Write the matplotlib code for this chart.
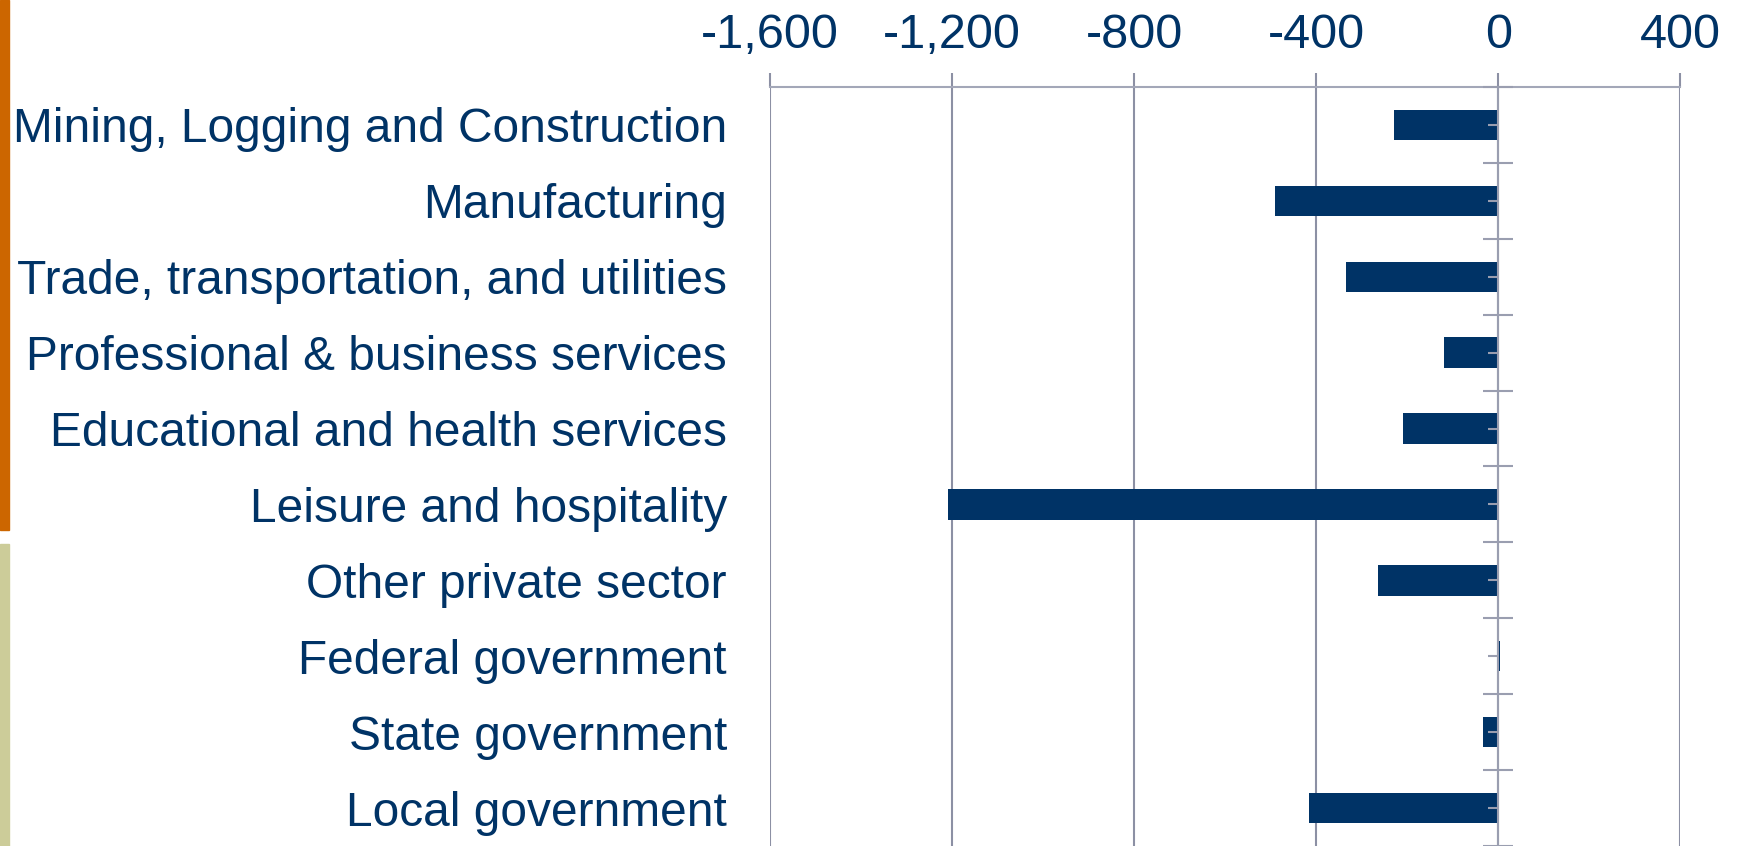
import matplotlib
matplotlib.use('Agg')
import matplotlib.pyplot as plt
from matplotlib.patches import Rectangle
from matplotlib.ticker import FuncFormatter, FixedLocator, NullFormatter
import numpy as np

categories = ['Mining, Logging and Construction', 'Manufacturing',
              'Trade, transportation, and utilities',
              'Professional & business services',
              'Educational and health services',
              'Leisure and hospitality', 'Other private sector',
              'Federal government', 'State government', 'Local government']
values = [-229, -490, -334, -119, -209, -1210, -264, 4, -34, -415]
xticks = [-1600, -1200, -800, -400, 0, 400]

navy = '#003366'
grid_col = '#8c90a4'
zero_col = '#9a9eb0'

plt.rcParams['font.family'] = ['Liberation Sans', 'DejaVu Sans']

fig = plt.figure(figsize=(17.37, 8.46), dpi=100)
ax = fig.add_axes([770 / 1737, 0.0, (1680.5 - 770) / 1737, 1 - 87 / 846])

y = np.arange(len(categories))
ax.barh(y, values, height=0.4, color=navy, zorder=2)

ax.set_xlim(xticks[0], xticks[-1])
ax.set_ylim(len(categories) - 0.5, -0.5)

ax.xaxis.tick_top()
ax.set_xticks(xticks)
ax.xaxis.set_major_formatter(FuncFormatter(lambda v, p: '{:,.0f}'.format(v)))
ax.tick_params(axis='x', direction='out', length=10, width=1.5, color=grid_col,
               labelsize=35, labelcolor=navy, pad=11)
ax.grid(axis='x', color=grid_col, linewidth=1.5)
ax.set_axisbelow(True)

ax.set_yticks(y)
ax.set_yticklabels(categories)
ax.tick_params(axis='y', length=0, labelsize=34.5, labelcolor=navy, pad=31)

for s in ['left', 'right', 'bottom']:
    ax.spines[s].set_visible(False)
ax.spines['top'].set_color('#a3a7b8')
ax.spines['top'].set_linewidth(1.5)

# axis line at zero with category ticks
zero_pos = (0 - xticks[0]) / (xticks[-1] - xticks[0])
sec = ax.secondary_yaxis(zero_pos)
sec.set_zorder(5)
for s in sec.spines.values():
    s.set_color(zero_col)
    s.set_linewidth(1.5)
sec.yaxis.set_major_locator(FixedLocator(np.arange(len(categories) + 1) - 0.5))
sec.yaxis.set_minor_locator(FixedLocator(y))
sec.yaxis.set_major_formatter(NullFormatter())
sec.yaxis.set_minor_formatter(NullFormatter())
sec.tick_params(which='major', direction='inout', length=21, width=1.5,
                color=zero_col, labelleft=False, labelright=False)
sec.tick_params(which='minor', direction='in', length=7, width=1.5,
                color=zero_col, labelleft=False, labelright=False)

fig.patches.append(Rectangle((0, 1 - 530 / 846), 9 / 1737, 530 / 846,
                             transform=fig.transFigure, color='#cc6600'))
fig.patches.append(Rectangle((0, 0), 9 / 1737, 1 - 544 / 846,
                             transform=fig.transFigure, color='#cccc99'))

fig.savefig('out.png', dpi=100)
